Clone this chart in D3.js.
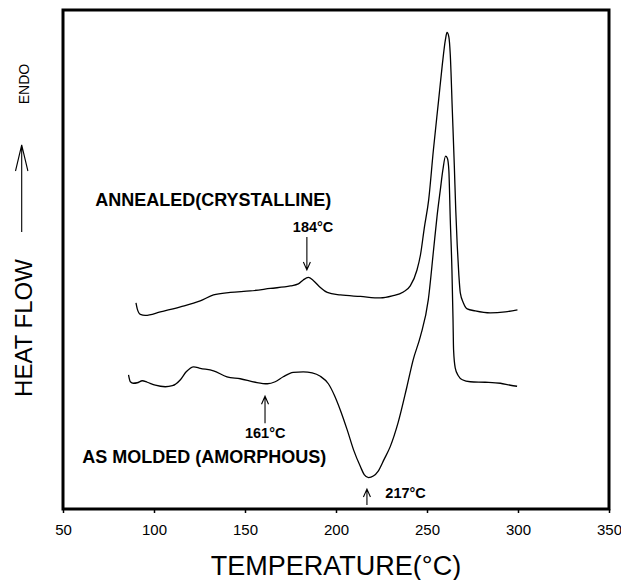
<!DOCTYPE html>
<html>
<head>
<meta charset="utf-8">
<script src="https://cdn.jsdelivr.net/npm/d3@7"></script>
<style>
  body { margin: 0; background: #fff; }
  svg { font-family: "Liberation Sans", Arial, sans-serif; }
  .line { fill: none; stroke: #000; stroke-width: 1.3px; }
</style>
</head>
<body>
<script>
// DSC traces, temperature (°C) vs heat flow (arbitrary units, endo up)
var annealed = [
  [90.1, 41.3], [90.8, 40.1], [92.5, 39.0], [95.2, 38.8], [103.5, 39.5],
  [114.5, 40.5], [125.4, 41.7], [132.7, 42.9], [141.9, 43.4], [152.9, 43.7],
  [163.9, 44.2], [174.9, 44.7], [179.3, 45.1], [182.0, 45.9], [184.8, 46.4],
  [187.5, 45.8], [191.4, 44.4], [195.2, 43.4], [202.4, 42.9], [213.4, 42.6],
  [224.4, 42.3], [230.9, 42.7], [237.0, 43.5], [240.8, 44.7], [244.5, 47.9],
  [246.4, 50.9], [248.5, 56.3], [250.9, 61.9], [253.5, 71.9], [256.4, 82.0],
  [258.4, 89.0], [260.1, 94.0], [261.0, 95.5], [262.0, 94.6], [262.8, 91.0],
  [263.9, 80.0], [265.0, 68.9], [265.8, 59.9], [266.6, 52.9], [267.5, 46.9],
  [268.3, 43.3], [270.0, 41.3], [272.1, 40.1], [276.5, 39.7], [284.8, 39.3],
  [293.0, 39.5], [299.7, 39.9]
];

var asMolded = [
  [86.0, 26.9], [87.0, 25.5], [88.6, 25.2], [90.8, 25.3], [93.6, 25.7],
  [96.3, 25.4], [100.7, 24.8], [106.2, 24.5], [110.1, 24.7], [114.5, 25.9],
  [117.7, 27.5], [121.8, 28.5], [125.4, 28.2], [132.7, 27.7], [140.1, 26.5],
  [147.4, 26.1], [155.7, 25.4], [162.3, 25.1], [166.6, 25.5], [171.0, 26.5],
  [176.5, 27.4], [182.0, 27.5], [186.9, 27.3], [191.4, 26.6], [195.8, 25.1],
  [199.1, 22.8], [202.4, 19.8], [206.2, 15.8], [209.7, 11.8], [213.4, 8.5],
  [215.5, 6.9], [217.9, 6.3], [220.5, 6.6], [223.2, 7.6], [226.5, 10.0],
  [229.8, 12.5], [234.2, 17.4], [238.9, 24.4], [242.4, 29.9], [246.3, 34.5],
  [250.7, 41.9], [253.6, 51.9], [255.5, 58.6], [257.3, 63.9], [258.7, 67.9],
  [260.2, 70.7], [261.2, 70.3], [262.0, 67.9], [262.8, 57.9], [263.7, 47.9],
  [264.3, 37.9], [264.6, 31.9], [265.5, 28.3], [267.2, 26.7], [269.4, 25.9],
  [273.8, 25.5], [282.0, 25.4], [290.3, 25.2], [295.8, 24.8], [299.5, 24.6]
];

var xTicks = [50, 100, 150, 200, 250, 300, 350];

// [label, temperature, arrow from, arrow to, label temperature, label level]
var markers = [
  ["184°C", 184, 54.5, 47.9, 187.4, 55.5, "middle"],
  ["161°C", 161, 17.2, 22.6, 161.1, 14.2, "middle"],
  ["217°C", 217, 0.8, 4.0, 227.1, 2.2, "start"]
];

// [text, temperature, level]
var curveLabels = [
  ["ANNEALED(CRYSTALLINE)", 67.7, 60.7],
  ["AS MOLDED (AMORPHOUS)", 60.6, 9.2]
];

var margin = {top: 10, right: 12, bottom: 71, left: 63},
    width = 621 - margin.left - margin.right,
    height = 580 - margin.top - margin.bottom;

var x = d3.scaleLinear().domain([50, 350]).range([0, width]);
var y = d3.scaleLinear().domain([0, 100]).range([height, 0]);

var valueline = d3.line()
    .x(function(d) { return x(d[0]); })
    .y(function(d) { return y(d[1]); })
    .curve(d3.curveMonotoneX);

var svg = d3.select("body").append("svg")
    .attr("width", 621)
    .attr("height", 580);

var g = svg.append("g")
    .attr("transform", "translate(" + margin.left + "," + margin.top + ")");

// traces
g.append("path").datum(annealed).attr("class", "line").attr("d", valueline);
g.append("path").datum(asMolded).attr("class", "line").attr("d", valueline);

// x axis
var xAxis = g.append("g")
    .attr("transform", "translate(0," + height + ")")
    .call(d3.axisBottom(x).tickValues(xTicks).tickSize(4).tickPadding(11));
xAxis.select(".domain").remove();
xAxis.selectAll(".tick line").attr("stroke", "#000").attr("stroke-width", 1.5);
xAxis.selectAll(".tick text")
    .attr("fill", "#000")
    .style("font-size", "15px")
    .style("font-family", "'Liberation Sans', Arial, sans-serif");

// frame
g.append("rect")
    .attr("width", width)
    .attr("height", height)
    .attr("fill", "none")
    .attr("stroke", "#000")
    .attr("stroke-width", 3);

// curve labels
g.selectAll(".clabel")
    .data(curveLabels)
  .enter().append("text")
    .attr("x", function(d) { return x(d[1]); })
    .attr("y", function(d) { return y(d[2]); })
    .style("font-size", "18px")
    .style("font-weight", "bold")
    .text(function(d) { return d[0]; });

// temperature markers
markers.forEach(function(m) {
  var mx = x(m[1]), y0 = y(m[2]), y1 = y(m[3]);
  var dir = y1 > y0 ? -1 : 1;
  g.append("path")
      .attr("d", "M" + mx + "," + y0 + "V" + y1 +
                 "M" + (mx - 3.5) + "," + (y1 + dir * 8) + "L" + mx + "," + y1 +
                 "L" + (mx + 3.5) + "," + (y1 + dir * 8))
      .attr("fill", "none")
      .attr("stroke", "#000")
      .attr("stroke-width", 1.1);
  g.append("text")
      .attr("x", x(m[4]))
      .attr("y", y(m[5]))
      .attr("text-anchor", m[6])
      .style("font-size", "14.5px")
      .style("font-weight", "bold")
      .text(m[0]);
});

// axis titles
svg.append("text")
    .attr("x", margin.left + width / 2)
    .attr("y", 575)
    .attr("text-anchor", "middle")
    .style("font-size", "27px")
    .text("TEMPERATURE(°C)");

svg.append("text")
    .attr("transform", "translate(32,328) rotate(-90)")
    .attr("text-anchor", "middle")
    .style("font-size", "24px")
    .text("HEAT FLOW");

svg.append("text")
    .attr("transform", "translate(28.5,84) rotate(-90)")
    .attr("text-anchor", "middle")
    .style("font-size", "14px")
    .text("ENDO");

// endo arrow
svg.append("path")
    .attr("d", "M21.7,232V145 M15.5,171L21.7,145L27.9,171")
    .attr("fill", "none")
    .attr("stroke", "#000")
    .attr("stroke-width", 1.1);
</script>
</body>
</html>
